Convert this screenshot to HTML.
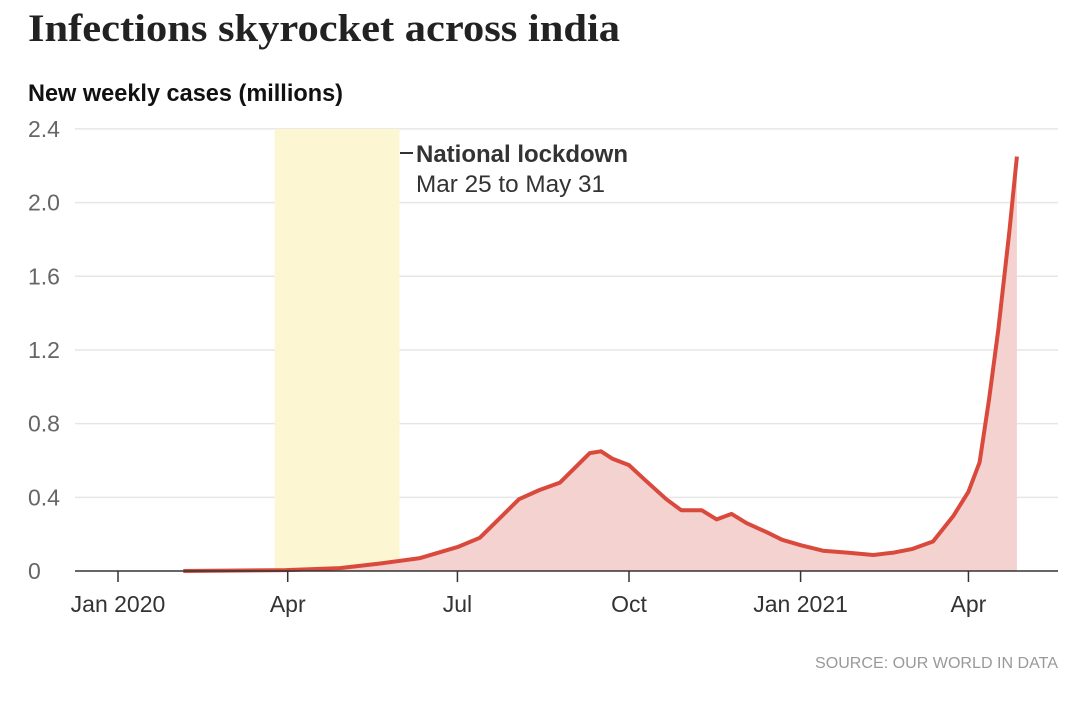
<!DOCTYPE html>
<html><head><meta charset="utf-8"><style>
body{margin:0;background:#fff;width:1080px;height:696px;overflow:hidden;font-family:"Liberation Sans Narrow","Liberation Sans",sans-serif}
</style></head><body>
<svg width="1080" height="696">
<text x="28" y="41" font-family="Liberation Serif,serif" font-weight="bold" font-size="39" textLength="592" lengthAdjust="spacingAndGlyphs" fill="#222">Infections skyrocket across india</text>
<text x="28" y="101" font-weight="bold" font-size="24" textLength="315" lengthAdjust="spacingAndGlyphs" fill="#111">New weekly cases (millions)</text>
<g id="grid"></g>
<rect id="lock" fill="#fdf6d3"></rect>
<path id="area" fill="#f3d2d0"></path>
<path id="line" fill="none" stroke="#d94a3d" stroke-width="4" stroke-linejoin="round"></path>
<line x1="75" x2="1058" y1="571" y2="571" stroke="#333" stroke-width="1.5"></line>
<g id="xt"></g>
<line x1="400" x2="413" y1="153" y2="153" stroke="#333" stroke-width="2"></line>
<text x="416" y="162" font-weight="bold" font-size="24" textLength="212" lengthAdjust="spacingAndGlyphs" fill="#333">National lockdown</text>
<text x="416" y="192" font-size="24" textLength="189" lengthAdjust="spacingAndGlyphs" fill="#333">Mar 25 to May 31</text>
<text x="1058" y="668" text-anchor="end" font-size="16" textLength="243" lengthAdjust="spacingAndGlyphs" fill="#999">SOURCE: OUR WORLD IN DATA</text>
</svg>
<script>
const yTicks=[0,0.4,0.8,1.2,1.6,2.0,2.4];
const yTickLabels=["0","0.4","0.8","1.2","1.6","2.0","2.4"];
const xTickDays=[0,91,182,274,366,456];
const xTickLabels=["Jan 2020","Apr","Jul","Oct","Jan 2021","Apr"];
const lockdown=[84,151];
const days=[35,90,119,140,162,182,194,204,215,226,237,245,253,259,265,274,283,294,302,313,321,329,337,348,356,366,378,391,405,416,426,437,448,456,462,467,472,478,482];
const cases=[0,0.005,0.016,0.04,0.07,0.13,0.18,0.28,0.39,0.44,0.48,0.56,0.64,0.65,0.61,0.575,0.49,0.39,0.33,0.33,0.28,0.31,0.26,0.21,0.17,0.14,0.11,0.10,0.087,0.10,0.12,0.16,0.30,0.43,0.59,0.93,1.31,1.85,2.25];
const X=d=>118+d*1.865, Y=v=>571-v*184.2;
const ns="http://www.w3.org/2000/svg";
const grid=document.getElementById('grid');
yTicks.forEach((t,i)=>{
 if(t>0){const l=document.createElementNS(ns,'line');
 
 
 l.setAttribute('x1',75);l.setAttribute('x2',1058);l.setAttribute('y1',Y(t));l.setAttribute('y2',Y(t));l.setAttribute('stroke','#e6e6e6');l.setAttribute('stroke-width',1.5);grid.appendChild(l);}
 const tx=document.createElementNS(ns,'text');
 
 
 tx.setAttribute('x',28);tx.setAttribute('y',Y(t)+8);tx.setAttribute('font-size',23);tx.setAttribute('fill','#666');tx.textContent=yTickLabels[i];grid.appendChild(tx);
});
const xt=document.getElementById('xt');
xTickDays.forEach((d,i)=>{
 const l=document.createElementNS(ns,'line');
 
 
 l.setAttribute('x1',X(d));l.setAttribute('x2',X(d));l.setAttribute('y1',571);l.setAttribute('y2',582);l.setAttribute('stroke','#333');l.setAttribute('stroke-width',1.5);xt.appendChild(l);
 const tx=document.createElementNS(ns,'text');
 
 
 tx.setAttribute('x',X(d));tx.setAttribute('y',612);tx.setAttribute('text-anchor','middle');tx.setAttribute('font-size',23);tx.setAttribute('fill','#333');tx.textContent=xTickLabels[i];xt.appendChild(tx);
});
const r=document.getElementById('lock');
r.setAttribute('x',X(lockdown[0]));r.setAttribute('width',X(lockdown[1])-X(lockdown[0]));r.setAttribute('y',Y(2.4));r.setAttribute('height',Y(0)-Y(2.4));
let p=days.map((d,i)=>(i?'L':'M')+X(d).toFixed(1)+','+Y(cases[i]).toFixed(1)).join('');
document.getElementById('line').setAttribute('d',p);
document.getElementById('area').setAttribute('d',p+'L'+X(days[days.length-1])+','+Y(0)+'L'+X(days[0])+','+Y(0)+'Z');
</script>
</body></html>
